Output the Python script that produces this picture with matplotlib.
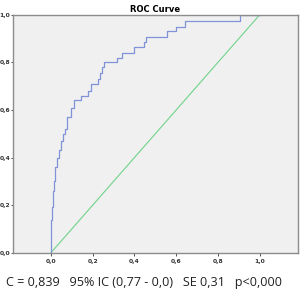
import matplotlib.pyplot as plt

# ROC curve corners (1 - specificity, sensitivity)
fpr = [0.000, 0.000, 0.005, 0.010, 0.014, 0.019, 0.029, 0.038, 0.048, 0.058,
       0.067, 0.077, 0.094, 0.110, 0.144, 0.177, 0.192, 0.225, 0.235, 0.245,
       0.254, 0.317, 0.339, 0.400, 0.446, 0.455, 0.555, 0.600, 0.640, 0.906, 1.000]
tpr = [0.000, 0.137, 0.190, 0.260, 0.300, 0.360, 0.400, 0.430, 0.470, 0.500,
       0.520, 0.570, 0.610, 0.640, 0.660, 0.680, 0.710, 0.730, 0.756, 0.780,
       0.800, 0.820, 0.840, 0.866, 0.888, 0.909, 0.933, 0.950, 0.975, 1.000, 1.000]
ref_line = [0.0, 1.0]
ticks = [0.0, 0.2, 0.4, 0.6, 0.8, 1.0]
tick_labels = ["0,0", "0,2", "0,4", "0,6", "0,8", "1,0"]
caption = "C = 0,839   95% IC (0,77 - 0,0)   SE 0,31   p<0,000"

fig = plt.figure(figsize=(3.0, 2.93), dpi=100)
ax = fig.add_axes([0.0417, 0.138, 0.95, 0.811])
ax.set_facecolor("#f0f0f0")

ax.plot(ref_line, ref_line, color="#6fd38a", lw=0.8)
ax.plot(fpr, tpr, color="#8093d8", lw=0.9, drawstyle="steps-post")

ax.set_xlim(-0.185, 1.182)
ax.set_ylim(0, 1)
ax.set_xticks(ticks)
ax.set_xticklabels(tick_labels)
ax.set_yticks(ticks)
ax.set_yticklabels(tick_labels)
ax.tick_params(labelsize=4.3, width=0.6, colors="#333333")
ax.tick_params(axis="x", length=2.5, pad=2)
ax.tick_params(axis="y", length=1.2, pad=0.3)
for lab in ax.get_xticklabels() + ax.get_yticklabels():
    lab.set_fontweight("bold")
for sp in ax.spines.values():
    sp.set_color("#8c8c8c")
    sp.set_linewidth(1.0)

ax.set_title("ROC Curve", fontsize=6, fontweight="bold", pad=2)

fig.text(0.48, 0.036, caption, ha="center", va="center",
         fontsize=9.1, family="Open Sans", color="#222222")

fig.savefig("out.png", dpi=100)
